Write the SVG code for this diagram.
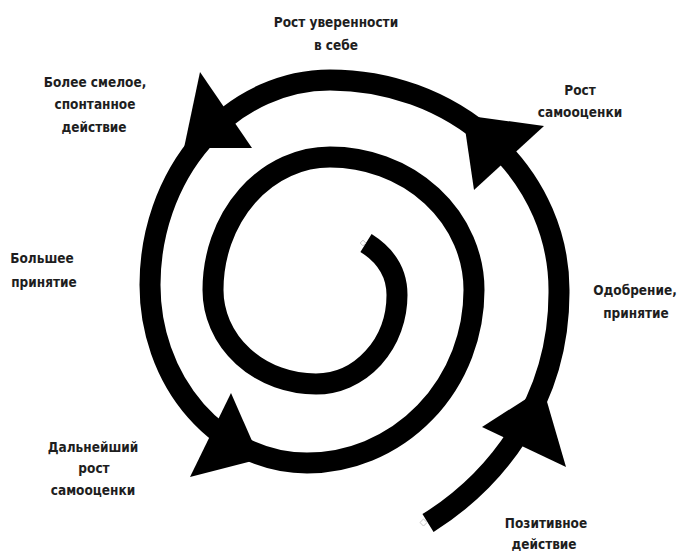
<svg xmlns="http://www.w3.org/2000/svg" width="683" height="551" viewBox="0 0 683 551">
  <style>
    .lbl { font-family: "DejaVu Sans Condensed", "DejaVu Sans", "Liberation Sans", sans-serif; font-stretch: condensed; font-weight: bold; font-size: 13.5px; fill: #1e1e1e; text-anchor: middle; }
    .spiral { fill: none; stroke: #000; stroke-width: 21; stroke-linecap: butt; stroke-linejoin: round; }
    .head { fill: #000; }
    .tip { fill: #fff; stroke: #bbb; stroke-width: 0.8; }
  </style>
  <rect width="683" height="551" fill="#fff"/>
  <g id="connectors">
    <path id="spiral" class="spiral" d="M 428 523 C 492 483, 560 405, 559 290 A 229 210 0 0 0 330 80 A 180 205 0 0 0 150 285 A 157 178 0 0 0 307 463 A 167 173 0 0 0 474 290 A 144 133 0 0 0 330 157 A 117 133 0 0 0 213 290 A 103 94 0 0 0 316 384 A 81 89 0 0 0 397 295 C 397 272, 385 255, 366 243"/>
    <polygon id="arrow-bottom-right" class="head" points="482,427 566,467 543,388"/>
    <polygon id="arrow-top-right" class="head" points="544,126 474,190 463,115"/>
    <polygon id="arrow-top-left" class="head" points="200,72 252,148 184,148"/>
    <polygon id="arrow-bottom-left" class="head" points="231,393 190,477 260,459"/>
    <rect class="tip" x="421" y="520" width="5" height="5" transform="rotate(45 423.5 522.5)"/>
    <rect class="tip" x="361" y="241" width="4" height="4" transform="rotate(45 363 243)"/>
  </g>
  <g id="node-confidence">
    <text class="lbl" x="336" y="27">Рост уверенности</text>
    <text class="lbl" x="336" y="50">в себе</text>
  </g>
  <g id="node-bolder-action">
    <text class="lbl" x="95" y="87">Более смелое,</text>
    <text class="lbl" x="95" y="109">спонтанное</text>
    <text class="lbl" x="94" y="132">действие</text>
  </g>
  <g id="node-self-esteem">
    <text class="lbl" x="580" y="95">Рост</text>
    <text class="lbl" x="580" y="117">самооценки</text>
  </g>
  <g id="node-more-acceptance">
    <text class="lbl" x="42" y="263">Большее</text>
    <text class="lbl" x="44" y="287">принятие</text>
  </g>
  <g id="node-approval">
    <text class="lbl" x="635" y="295">Одобрение,</text>
    <text class="lbl" x="636" y="318">принятие</text>
  </g>
  <g id="node-further-growth">
    <text class="lbl" x="93" y="452">Дальнейший</text>
    <text class="lbl" x="94" y="473">рост</text>
    <text class="lbl" x="93" y="495">самооценки</text>
  </g>
  <g id="node-positive-action">
    <text class="lbl" x="546" y="528">Позитивное</text>
    <text class="lbl" x="544" y="549">действие</text>
  </g>
</svg>
